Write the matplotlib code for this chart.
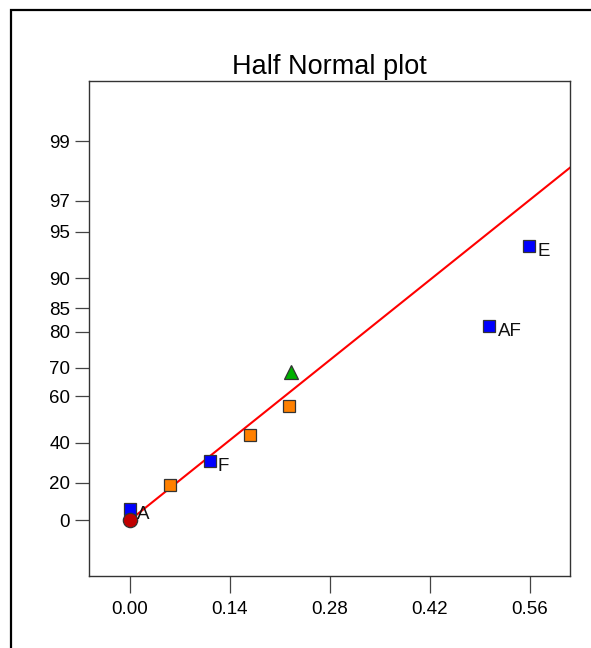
import numpy as np
import matplotlib
matplotlib.use("Agg")
import matplotlib.pyplot as plt
from matplotlib.patches import Rectangle
from statistics import NormalDist

plt.rcParams["font.family"] = ["Liberation Sans", "DejaVu Sans"]

# effects (x) and half-normal probability (%)
effect = [0.000, 0.056, 0.112, 0.168, 0.2226, 0.2254, 0.5026, 0.5586]
prob = [6.25, 18.75, 31.25, 43.75, 56.25, 68.75, 81.25, 93.75]
colors = ["#0000ff", "#ff8000", "#0000ff", "#ff8000", "#ff8000",
          "#00b000", "#0000ff", "#0000ff"]
markers = ["s", "s", "s", "s", "s", "^", "s", "s"]

err_x = [0.0]
err_p = [0.0]

labels = {"A": (0.0, 0.0), "F": (0.112, 31.25), "AF": (0.5026, 81.25), "E": (0.5586, 93.75)}

line_x = [0.0, 0.62]
line_z = [0.0, 3.887 * 0.62]

yticks = [0, 20, 40, 60, 70, 80, 85, 90, 95, 97, 99]
xticks = [0.00, 0.14, 0.28, 0.42, 0.56]

nd = NormalDist()
_inv = np.vectorize(nd.inv_cdf, otypes=[float])
_cdf = np.vectorize(nd.cdf, otypes=[float])


def fwd(p):
    p = np.clip(np.asarray(p, dtype=float), -99.99999, 99.99999)
    return _inv(0.5 + p / 200.0)


def inv(z):
    return 200.0 * (_cdf(np.asarray(z, dtype=float)) - 0.5)


fig = plt.figure(figsize=(5.91, 6.48), dpi=100)
ax = fig.add_axes([89 / 591, 72 / 648, 481 / 591, 495 / 648])
ax.set_yscale("function", functions=(fwd, inv))

ax.plot(line_x, inv(line_z), color="red", lw=1.5, zorder=2)

for x, p, c, m in zip(effect, prob, colors, markers):
    ms = 10 if m == "^" else 8.8
    ax.plot(x, p, marker=m, ms=ms, color=c, mec="#333333", mew=0.9,
            ls="none", zorder=3)
ax.plot(err_x, err_p, marker="o", ms=10.3, color="#c00000", mec="#333333",
        mew=0.9, ls="none", zorder=3)

offsets = {"A": (5, 4), "F": (5.5, -4), "AF": (7, -4), "E": (6.5, -4)}
for name, (x, p) in labels.items():
    ax.annotate(name, (x, p), xytext=offsets[name], textcoords="offset points",
                ha="left", va="center", fontsize=13.5, color="#111111")

ax.set_xlim(-0.0574, 0.6166)
ax.set_ylim(inv(-0.38), inv(2.986))
ax.set_xticks(xticks)
ax.set_xticklabels([f"{v:.2f}" for v in xticks])
ax.set_yticks(yticks)
ax.set_yticklabels([str(v) for v in yticks])
ax.minorticks_off()

ax.tick_params(axis="x", length=12, width=0.9, color="#444444", pad=6,
               labelsize=13.5, direction="out")
ax.tick_params(axis="y", length=10, width=0.9, color="#444444", pad=3.5,
               labelsize=13.5, direction="out")
for s in ax.spines.values():
    s.set_color("#333333")
    s.set_linewidth(1.0)

ax.set_title("Half Normal plot", fontsize=19.5, pad=5)

fig.patches.append(Rectangle((11 / 591, -0.1), 1.2, 1.1 - 10.5 / 648,
                             transform=fig.transFigure, fill=False,
                             ec="black", lw=1.6, clip_on=False))

fig.savefig("out.png", dpi=100)
